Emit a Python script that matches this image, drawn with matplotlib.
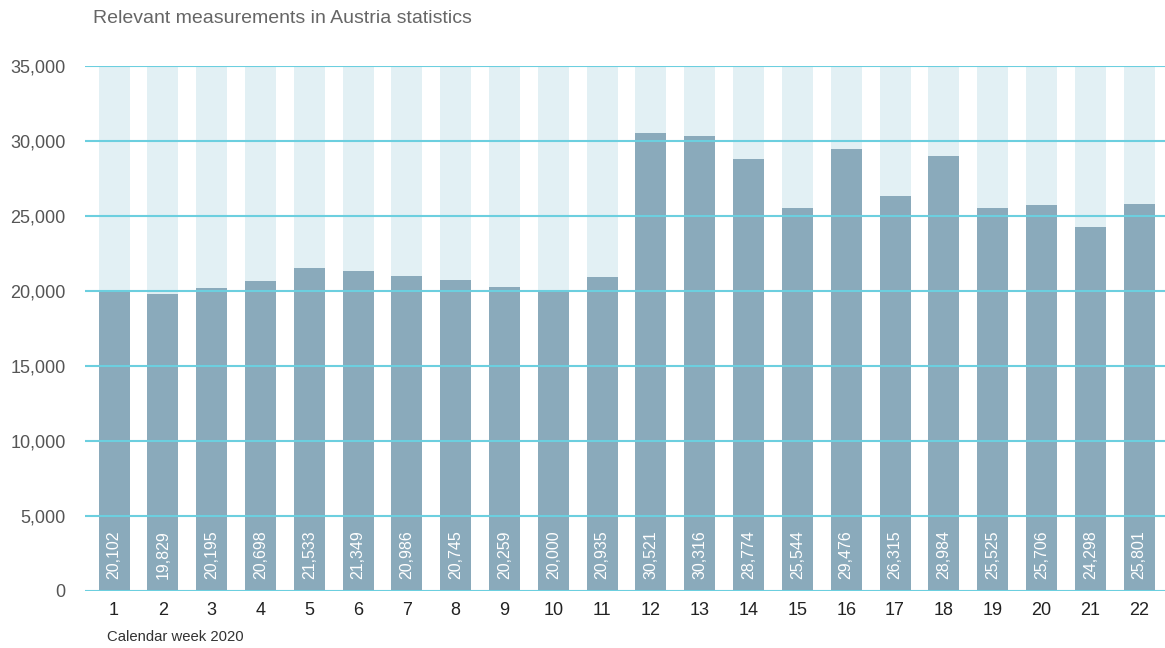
import matplotlib.pyplot as plt
import numpy as np
from matplotlib import font_manager

weeks = [str(w) for w in range(1, 23)]
values = [20102, 19829, 20195, 20698, 21533, 21349, 20986, 20745, 20259, 20000, 20935,
          30521, 30316, 28774, 25544, 29476, 26315, 28984, 25525, 25706, 24298, 25801]
y_max = 35000
y_ticks = [0, 5000, 10000, 15000, 20000, 25000, 30000, 35000]

names = {f.name for f in font_manager.fontManager.ttflist}
cond = 'Liberation Sans Narrow' if 'Liberation Sans Narrow' in names else 'Liberation Sans'

fig = plt.figure(figsize=(11.65, 6.48), dpi=100)
ax = fig.add_axes([0.073, 0.088, 0.927, 0.810])

x = np.arange(1, len(values) + 1)
# background bars up to the full scale, then the data
ax.bar(x, [y_max] * len(values), width=0.635, color='#e2f0f4', zorder=1)
ax.bar(x, values, width=0.635, color='#8aaabb', zorder=2)

for xi, v in zip(x, values):
    ax.text(xi, 800, f'{v:,}', rotation=90, ha='center', va='bottom',
            color='white', fontsize=11.5, family=cond, zorder=4)

ax.set_xlim(0.406, 22.53)
ax.set_ylim(0, y_max)
ax.set_yticks(y_ticks)
ax.set_yticklabels([f'{t:,}' for t in y_ticks], family='Liberation Sans',
                   fontsize=13, color='#555555')
ax.set_xticks(x)
ax.set_xticklabels(weeks, family=cond, fontsize=13, color='#222222')
ax.tick_params(axis='both', length=0)
ax.tick_params(axis='y', pad=14)
ax.tick_params(axis='x', pad=8)
for s in ax.spines.values():
    s.set_visible(False)
for t in y_ticks:
    ax.axhline(t, color='#6ccfdf', lw=1.5, zorder=3)

fig.text(0.0795, 0.972, 'Relevant measurements in Austria statistics', family='Liberation Sans',
         fontsize=14, color='#666666', va='center', ha='left')
fig.text(0.092, 0.017, 'Calendar week 2020', family=cond, fontsize=10.7,
         color='#333333', va='center', ha='left')

fig.savefig('out.png', dpi=100)
